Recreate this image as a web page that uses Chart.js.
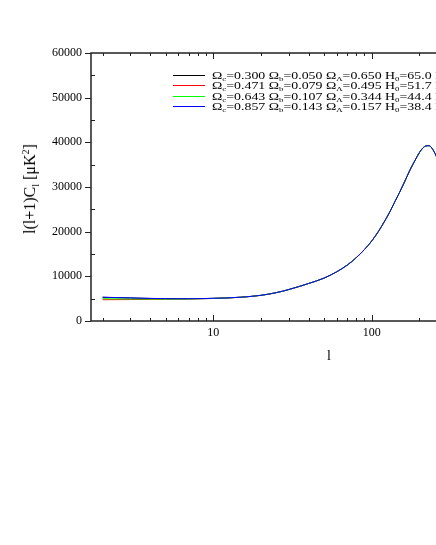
<!DOCTYPE html>
<html>
<head>
<meta charset="utf-8">
<script src="https://cdn.jsdelivr.net/npm/chart.js@4.4.1/dist/chart.umd.min.js"></script>
<style>
    html, body {
        margin: 0;
        padding: 0;
        background: #ffffff;
        overflow: hidden;
        width: 436px;
        height: 545px;
    }
    #wrap {
        position: relative;
        width: 620px;
        height: 545px;
        font-family: "Liberation Serif", "Times New Roman", serif;
        color: #000000;
    }
    #wrap canvas {
        position: absolute;
        left: 0;
        top: 0;
    }
    .legend-row {
        position: absolute;
        left: 173px;
        height: 10px;
        font-size: 11px;
        line-height: 10px;
        white-space: nowrap;
    }
    .legend-row .swatch {
        position: absolute;
        left: 0;
        top: 5px;
        width: 32px;
        height: 0;
        border-top: 1px solid;
    }
    .legend-row .text {
        position: absolute;
        left: 39px;
        top: 0;
        transform: scaleX(1.26);
        transform-origin: 0 50%;
    }
    .legend-row sub {
        font-size: 7px;
        vertical-align: -2px;
        line-height: 0;
    }
    #yTitle {
        position: absolute;
        left: 30px;
        top: 189px;
        transform: translate(-50%, -50%) rotate(-90deg);
        font-size: 16px;
        white-space: nowrap;
    }
    #yTitle sub, #yTitle sup {
        font-size: 10px;
        line-height: 0;
    }
    #xTitle {
        position: absolute;
        left: 329px;
        top: 356px;
        transform: translate(-50%, -50%);
        font-size: 14px;
    }
</style>
</head>
<body>
<div id="wrap">
    <canvas id="clChart"></canvas>
    <div id="legendBox"></div>
    <div id="yTitle">l(l+1)C<sub>l</sub> [μK<sup>2</sup>]</div>
    <div id="xTitle">l</div>
</div>
<script>
// multipoles l
const ells = [2, 3, 4, 5, 6, 7, 8, 9, 10, 12, 15, 20, 25, 30, 40, 50, 60, 70, 80, 90, 100, 110, 120, 130, 140, 150, 160, 175, 190, 200, 210, 220, 230, 240, 255, 280, 320];

// high-l part (l >= 12) is the same for all four models
const sharedTail = [5150, 5330, 5750, 6350, 7050, 8400, 9600, 11000, 12500, 14200, 16000, 17900, 20000, 22200, 24400, 26700, 28800, 30900, 33900, 36300, 37700, 38700, 39200, 39250, 38700, 37000, 33500, 28000];

// low-l part (l = 2..10), where the models split up
const blackLow = [5300, 5150, 5050, 5000, 4980, 4990, 5010, 5040, 5080];
const redLow = [4770, 4800, 4830, 4860, 4890, 4920, 4960, 5000, 5050];
const greenLow = [4980, 4930, 4910, 4910, 4920, 4940, 4970, 5010, 5060];
const blueLow = [5330, 5170, 5060, 5005, 4985, 4990, 5010, 5040, 5080];

const omegaC = ["0.300", "0.471", "0.643", "0.857"];
const omegaB = ["0.050", "0.079", "0.107", "0.143"];
const omegaL = ["0.650", "0.495", "0.344", "0.157"];
const hubble = ["65.0", "51.7", "44.4", "38.4"];

const xTickValues = [2, 3, 4, 5, 6, 7, 8, 9, 10, 20, 30, 40, 50, 60, 70, 80, 90, 100, 200, 300, 400, 500, 600, 700, 800, 900, 1000];
const xTickLabels = [10, 100, 1000];
const yTickValues = [0, 5000, 10000, 15000, 20000, 25000, 30000, 35000, 40000, 45000, 50000, 55000, 60000];

const lineColors = ["#000000", "#ff0000", "#00ff00", "#0000ff"];

document.addEventListener("DOMContentLoaded", () => {
    const lowParts = [blackLow, redLow, greenLow, blueLow];
    const serif = "'Liberation Serif', 'Times New Roman', serif";

    // box + ticks: x ticks inward on bottom and top, y majors outward, y minors inward
    const frameTicks = {
        id: "frameTicks",
        afterDraw(chart) {
            const { ctx, chartArea: area } = chart;
            const xScale = chart.scales.x;
            const yScale = chart.scales.y;
            ctx.save();
            ctx.strokeStyle = "#222222";
            ctx.lineWidth = 1.5;
            ctx.strokeRect(area.left, area.top, area.right - area.left, area.bottom - area.top);

            ctx.lineWidth = 1;
            ctx.beginPath();
            xTickValues.forEach((value) => {
                const px = Math.round(xScale.getPixelForValue(value)) + 0.5;
                const len = xTickLabels.includes(value) ? 6 : 3;
                ctx.moveTo(px, area.bottom);
                ctx.lineTo(px, area.bottom - len);
                ctx.moveTo(px, area.top);
                ctx.lineTo(px, area.top + len);
            });
            yTickValues.forEach((value) => {
                const py = Math.round(yScale.getPixelForValue(value)) + 0.5;
                if (value % 10000 === 0) {
                    ctx.moveTo(area.left - 6, py);
                    ctx.lineTo(area.left, py);
                } else {
                    ctx.moveTo(area.left, py);
                    ctx.lineTo(area.left + 4, py);
                }
            });
            ctx.stroke();
            ctx.restore();
        },
    };

    const datasets = lowParts.map((low, i) => ({
        label: `model ${i + 1}`,
        data: low.concat(sharedTail).map((v, j) => ({ x: ells[j], y: v })),
        borderColor: lineColors[i],
        backgroundColor: lineColors[i],
        borderWidth: 1,
        pointRadius: 0,
        cubicInterpolationMode: "monotone",
        fill: false,
        order: 3 - i,
    }));

    new Chart(document.getElementById("clChart"), {
        type: "line",
        data: { datasets },
        options: {
            responsive: true,
            maintainAspectRatio: false,
            animation: false,
            layout: { padding: { top: 53, right: 53, bottom: 194, left: 0 } },
            plugins: {
                legend: { display: false },
                tooltip: { enabled: false },
            },
            scales: {
                x: {
                    type: "logarithmic",
                    min: 1.69,
                    max: 1710,
                    grid: { display: false, drawTicks: false },
                    border: { display: false },
                    ticks: {
                        autoSkip: false,
                        maxRotation: 0,
                        padding: 5,
                        color: "#000000",
                        font: { family: serif, size: 12 },
                        callback: (value) => (xTickLabels.includes(value) ? String(value) : ""),
                    },
                    afterBuildTicks: (scale) => {
                        scale.ticks = xTickValues.map((value) => ({ value }));
                    },
                    afterFit: (scale) => {
                        scale.height = 30;
                    },
                },
                y: {
                    min: 0,
                    max: 60000,
                    grid: { display: false, drawTicks: false },
                    border: { display: false },
                    ticks: {
                        stepSize: 10000,
                        padding: 9,
                        color: "#000000",
                        font: { family: serif, size: 12 },
                        callback: (value) => String(value),
                    },
                    afterFit: (scale) => {
                        scale.width = 91;
                    },
                },
            },
        },
        plugins: [frameTicks],
    });

    // legend with subscripts, built from the colour / parameter arrays
    const legendBox = document.getElementById("legendBox");
    const rowTops = [70, 80, 91, 101];
    legendBox.innerHTML = lineColors
        .map(
            (color, i) => `
                <div class="legend-row" style="top:${rowTops[i]}px">
                    <span class="swatch" style="border-color:${color}"></span>
                    <span class="text">Ω<sub>c</sub>=${omegaC[i]} Ω<sub>b</sub>=${omegaB[i]} Ω<sub>Λ</sub>=${omegaL[i]} H<sub>0</sub>=${hubble[i]} km/s/Mpc</span>
                </div>
            `
        )
        .join("");
});
</script>
</body>
</html>
